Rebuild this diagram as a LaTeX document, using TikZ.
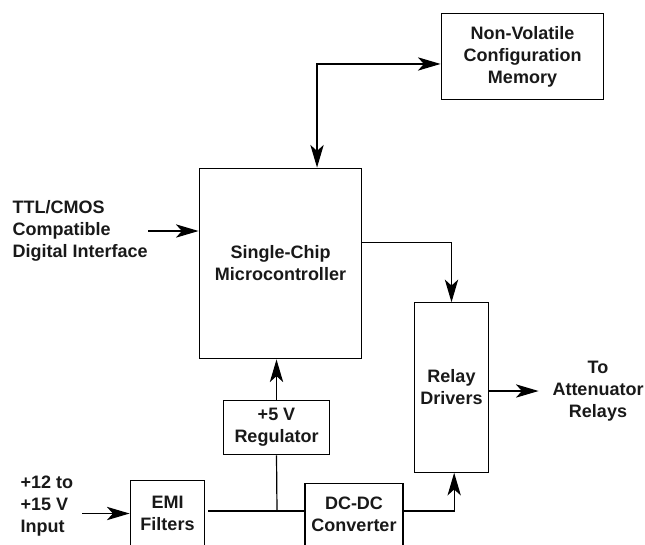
\documentclass[tikz,border=0pt]{standalone}
\usepackage{fontspec}
\setmainfont{Liberation Sans}
\usetikzlibrary{arrows.meta}
\begin{document}
\begin{tikzpicture}[x=0.75pt,y=-0.75pt,line width=0.9pt,
  every node/.style={font=\fontsize{13.5}{16.5}\selectfont\bfseries,text=black!90},
  blk/.style={draw,align=center,inner sep=0pt},
  lbl/.style={inner sep=0pt},
  arr/.style={-{Stealth[length=17pt,width=10pt,inset=4.5pt]}},
  arrs/.style={{Stealth[length=17pt,width=10pt,inset=4.5pt]}-{Stealth[length=17pt,width=10pt,inset=4.5pt]}}]
\useasboundingbox (0,0) rectangle (645,544);
\clip (0,0) rectangle (645,544);
% blocks
\node[blk,minimum width=122pt,minimum height=65pt] (mem) at (522.5,56.5) {Non-Volatile\\Configuration\\Memory};
\node[blk,minimum width=122pt,minimum height=143pt] (mcu) at (280.5,263.5) {Single-Chip\\Microcontroller};
\node[blk,minimum width=56pt,minimum height=127pt] (relay) at (451.5,387.5) {Relay\\Drivers};
\node[blk,minimum width=80pt,minimum height=41pt] (reg) at (276.5,427.5) {+5 V\\Regulator};
\node[blk,minimum width=56pt,minimum height=49pt] (emi) at (167.5,513.5) {EMI\\Filters};
\node[blk,minimum width=73.5pt,minimum height=47pt] (dcdc) at (354,514.5) {DC-DC\\Converter};
% labels
\node[lbl,anchor=west,align=left] (ttl) at (12,231) {TTL/CMOS\\Compatible\\Digital Interface};
\node[lbl,anchor=west,align=left] (inp) at (20,506) {+12 to\\+15 V\\Input};
\node[lbl,align=center] (out) at (598,391) {To\\Attenuator\\Relays};
\coordinate (bus) at (277,511);
% connectors
\draw[arrs] ([xshift=27.4pt]mcu.north) |- ([yshift=-5.6pt]mem.west);
\draw[arr] (ttl.east) -- (ttl.east -| mcu.west);
\draw[arr] ([yshift=16pt]mcu.east) -| (relay.north);
\draw[arr] (relay.east |- out.west) -- (out.west) [shorten >=10pt];
\draw[arr] (reg.north) -- (reg.north |- mcu.south);
\draw[arr,shorten <=6.5pt] (inp.east |- emi.west) -- (emi.west);
\draw[shorten <=2pt] (emi.east |- bus) -- (dcdc.west |- bus);
\draw (reg.south) -- (bus);
\draw[arr] (dcdc.east |- bus) -| ([xshift=2pt]relay.south);
\end{tikzpicture}
\end{document}
